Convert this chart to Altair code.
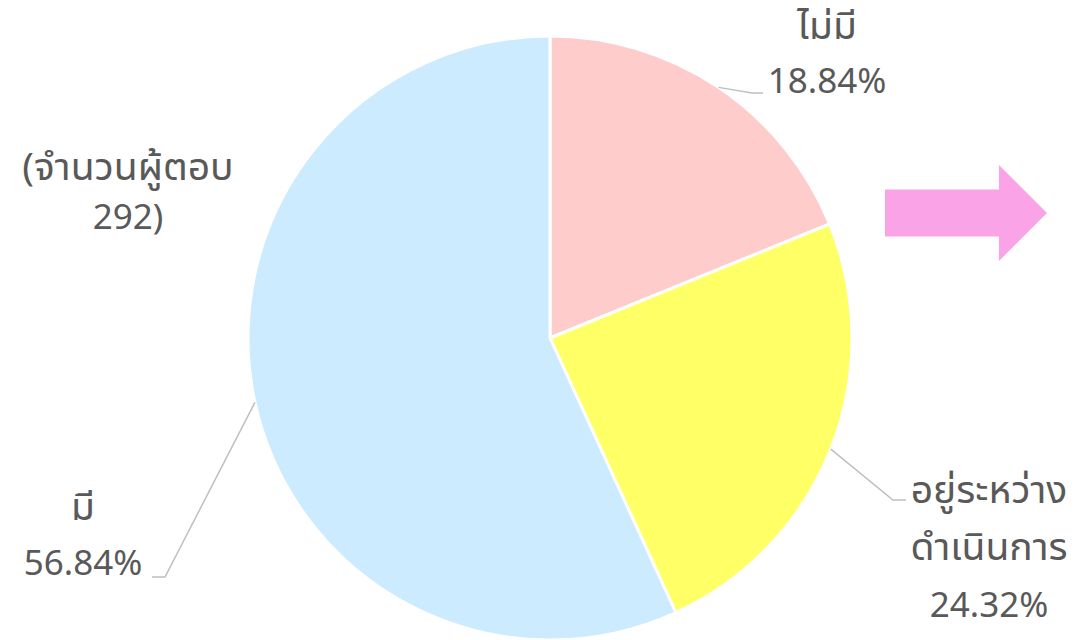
import math
import altair as alt
import pandas as pd

# ---- data ----
categories = ["ไม่มี", "อยู่ระหว่างดำเนินการ", "มี"]
label_lines = [["ไม่มี", "18.84%"], ["อยู่ระหว่าง", "ดำเนินการ", "24.32%"], ["มี", "56.84%"]]
values = [18.84, 24.32, 56.84]
colors = ["#FFCCCC", "#FFFF66", "#CCEBFF"]
note_lines = ["(จำนวนผู้ตอบ", "292)"]

# ---- layout (chart pixel coords; page has 8px margin) ----
W, H = 1060, 632
CX, CY, R = 542, 330, 302
TEXT_COLOR = "#595959"
FONT = "Noto Sans Thai UI, Noto Sans Thai, Noto Sans"
FS_NUM = 35
FS_THAI = 39
# label anchors: (center x, first baseline, line step)
label_anchor = [(819, 31, 54), (981, 495, 57), (75, 512, 55)]
# leader line elbow and end points
leader_pts = [[(744, 85), (755, 85)], [(885, 492), (898, 492)], [(157, 569), (144, 569)]]
note_anchor = (120, 172, 49)

pie_df = pd.DataFrame({"cat": categories, "value": values, "color": colors, "idx": range(3)})

pie = alt.Chart(pie_df).mark_arc(outerRadius=R, stroke="white", strokeWidth=3).encode(
    theta=alt.Theta("value:Q", stack=True),
    order=alt.Order("idx:Q"),
    color=alt.Color("color:N", scale=None),
    x=alt.value(CX),
    y=alt.value(CY),
)

# leader lines starting at slice mid-angle edge
rows = []
cum = 0.0
total = sum(values)
for i, v in enumerate(values):
    mid = (cum + v / 2) / total * 2 * math.pi
    cum += v
    sx = CX + R * math.sin(mid)
    sy = CY - R * math.cos(mid)
    pts = [(sx, sy)] + leader_pts[i]
    for k, (px, py) in enumerate(pts):
        rows.append({"g": i, "k": k, "x": px, "y": py})
lead_df = pd.DataFrame(rows)
leaders = alt.Chart(lead_df).mark_line(color="#BFBFBF", strokeWidth=1.5).encode(
    x=alt.X("x:Q", scale=None),
    y=alt.Y("y:Q", scale=None),
    detail="g:N",
    order="k:Q",
)


def is_thai(s):
    return any("\u0e00" <= ch <= "\u0e7f" for ch in s)


trows = []
for i, lines in enumerate(label_lines):
    ax, ay, step = label_anchor[i]
    for j, t in enumerate(lines):
        trows.append({"t": t, "x": ax, "y": ay + j * step, "fs": FS_THAI if is_thai(t) else FS_NUM})
nx, ny, nstep = note_anchor
for j, t in enumerate(note_lines):
    trows.append({"t": t, "x": nx, "y": ny + j * nstep, "fs": FS_THAI if is_thai(t) else FS_NUM})
text_df = pd.DataFrame(trows)
texts = alt.Chart(text_df).mark_text(
    font=FONT, color=TEXT_COLOR, align="center", baseline="alphabetic"
).encode(
    x=alt.X("x:Q", scale=None),
    y=alt.Y("y:Q", scale=None),
    size=alt.Size("fs:Q", scale=None),
    text="t:N",
)

arrow_path = "M -1 -0.29 L 0.407 -0.29 L 0.407 -0.593 L 1 0 L 0.407 0.593 L 0.407 0.29 L -1 0.29 Z"
arrow = alt.Chart(pd.DataFrame({"a": [1]})).mark_point(
    shape=arrow_path, filled=True, fill="#FBA3E7", stroke=None, opacity=1, size=162 * 162
).encode(x=alt.value(958), y=alt.value(205))

chart = alt.layer(pie, leaders, texts, arrow).properties(
    width=W, height=H, padding=0, autosize=alt.AutoSizeParams(type="none")
).configure_view(stroke=None)

chart.save("out.html", embed_options={"renderer": "svg", "actions": False})
